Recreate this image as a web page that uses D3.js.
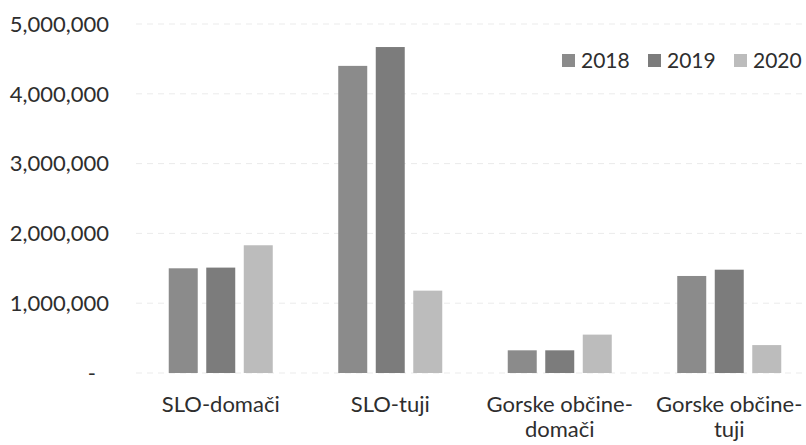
<!DOCTYPE html>
<html><head><meta charset="utf-8">
<script src="https://cdn.jsdelivr.net/npm/d3@7"></script>
<style>body{margin:0;background:#fff}svg{display:block}</style>
</head><body>
<svg id="c" width="806" height="445"></svg>
<script>
const categories = [["SLO-domači"], ["SLO-tuji"], ["Gorske občine-", "domači"], ["Gorske občine-", "tuji"]];
const seriesNames = ["2018", "2019", "2020"];
const values2018 = [1500000, 4400000, 325000, 1390000];
const values2019 = [1510000, 4670000, 325000, 1480000];
const values2020 = [1830000, 1180000, 550000, 400000];
const yTicks = [0, 1000000, 2000000, 3000000, 4000000, 5000000];
const colors = ["#8b8b8b", "#7c7c7c", "#bcbcbc"];

const series = [values2018, values2019, values2020];
const svg = d3.select("#c");
const font = "Lato, 'Open Sans', sans-serif";
const textColor = "#2e2e2e";

const y = d3.scaleLinear().domain([0, 5000000]).range([373, 24]);
const x0 = d3.scaleBand().domain(d3.range(categories.length)).range([136, 814]).paddingInner(0).paddingOuter(0);
const x1 = d3.scaleBand().domain(seriesNames).range([0, x0.bandwidth()]).paddingInner(0.227).paddingOuter(0.873);

// gridlines
svg.append("g").selectAll("line").data(yTicks).join("line")
  .attr("x1", 136).attr("x2", 806)
  .attr("y1", d => y(d)).attr("y2", d => y(d))
  .attr("stroke", "#ebebeb").attr("stroke-width", 1).attr("stroke-dasharray", "6,5");

// y axis labels
const fmt = d3.format(",");
svg.append("g").selectAll("text").data(yTicks).join("text")
  .attr("x", d => d === 0 ? 96 : 109).attr("y", d => y(d))
  .attr("dy", "0.35em").attr("text-anchor", "end")
  .attr("font-family", font).attr("font-size", 22).attr("fill", textColor)
  .text(d => d === 0 ? "-" : fmt(d));

// bars
const g = svg.append("g");
categories.forEach((c, i) => {
  g.append("g").attr("transform", `translate(${x0(i)},0)`)
    .selectAll("rect").data(seriesNames.map((s, k) => ({s, v: series[k][i], k}))).join("rect")
    .attr("x", d => x1(d.s)).attr("width", x1.bandwidth())
    .attr("y", d => y(d.v)).attr("height", d => y(0) - y(d.v))
    .attr("fill", d => colors[d.k]);
});

// category labels
const cl = svg.append("g");
categories.forEach((lines, i) => {
  const t = cl.append("text").attr("text-anchor", "middle")
    .attr("font-family", font).attr("font-size", 22).attr("fill", textColor);
  lines.forEach((l, j) => {
    t.append("tspan").attr("x", x0(i) + x0.bandwidth() / 2).attr("y", 412 + j * 25).text(l);
  });
});

// legend
const lg = svg.append("g");
seriesNames.forEach((s, k) => {
  const lx = 562 + k * 86;
  lg.append("rect").attr("x", lx).attr("y", 54).attr("width", 13).attr("height", 13).attr("fill", colors[k]);
  lg.append("text").attr("x", lx + 19).attr("y", 68)
    .attr("font-family", font).attr("font-size", 21).attr("fill", textColor).text(s);
});
</script>
</body></html>
